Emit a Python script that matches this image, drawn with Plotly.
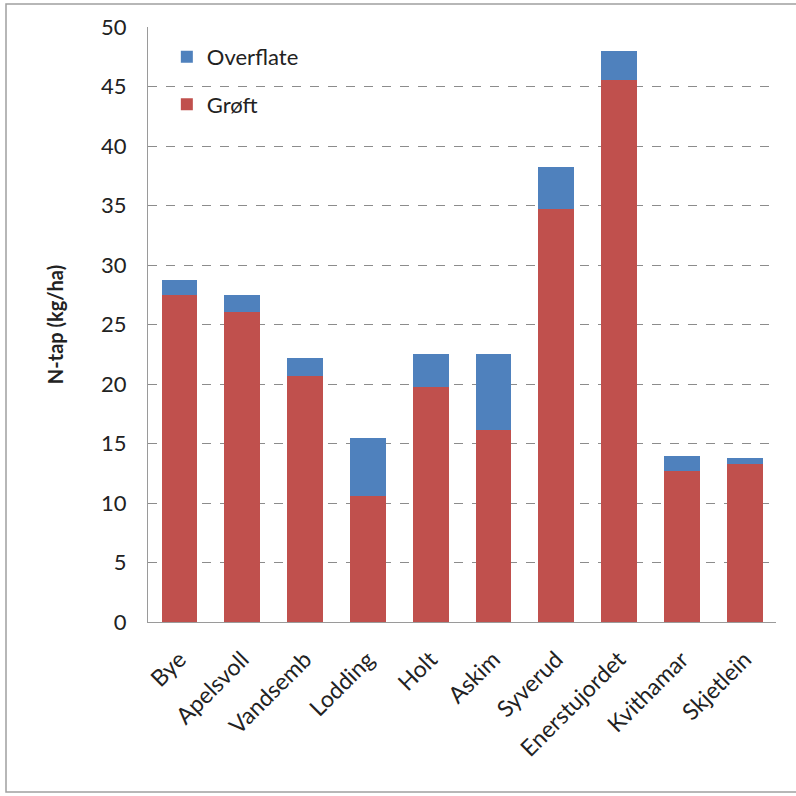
import plotly.graph_objects as go

# N-loss per site (kg/ha), split into drainage (grøft) and surface runoff (overflate)
sites = ["Bye", "Apelsvoll", "Vandsemb", "Lodding", "Holt", "Askim",
         "Syverud", "Enerstujordet", "Kvithamar", "Skjetlein"]
groft = [27.5, 26.05, 20.67, 10.6, 19.75, 16.17, 34.74, 45.58, 12.69, 13.25]
overflate_total = [28.77, 27.5, 22.2, 15.5, 22.55, 22.55, 38.24, 47.96, 13.95, 13.76]
overflate = [round(t - g, 2) for t, g in zip(overflate_total, groft)]

y_ticks = list(range(0, 51, 5))

RED = "#C0504D"
BLUE = "#4F81BD"
FONT = "Lato, 'Open Sans', sans-serif"

fig = go.Figure()
fig.add_trace(go.Bar(x=sites, y=groft, name="Grøft", marker_color=RED,
                     legendgroup="g", legendrank=2, marker_line_width=0))
fig.add_trace(go.Bar(x=sites, y=overflate, name="Overflate", marker_color=BLUE,
                     legendgroup="o", legendrank=1, marker_line_width=0))

fig.update_layout(
    barmode="stack",
    bargap=0.43,
    width=796, height=796,
    margin=dict(l=148, r=20, t=27, b=174),
    paper_bgcolor="white",
    plot_bgcolor="white",
    font=dict(family=FONT, color="#222222"),
    showlegend=True,
    legend=dict(
        x=0.03, y=0.985, xanchor="left", yanchor="top",
        traceorder="grouped", tracegroupgap=16,
        font=dict(size=22, family=FONT),
        bgcolor="rgba(0,0,0,0)",
        itemwidth=30,
    ),
    xaxis=dict(
        tickangle=-45,
        tickfont=dict(size=23, family=FONT),
        ticklabelstandoff=14,
        showline=True, linecolor="#9a9a9a", linewidth=1,
        ticks="", showgrid=False,
    ),
    yaxis=dict(
        range=[0, 50],
        tickvals=y_ticks,
        tickfont=dict(size=22, family=FONT),
        ticklabelstandoff=16,
        showline=True, linecolor="#9a9a9a", linewidth=1,
        showgrid=True, gridcolor="#8c8c8c", griddash="dash", gridwidth=1,
        zeroline=False,
        ticks="", ticklen=0,
        title=dict(text="<b>N-tap (kg/ha)</b>", font=dict(size=20, family=FONT),
                   standoff=32),
    ),
)

# Outer frame around the chart
fig.add_shape(type="rect", xref="paper", yref="paper",
              x0=-142 / 628, x1=1.04, y0=-170 / 595, y1=1 + 23 / 595,
              line=dict(color="#a0a0a0", width=1.5), layer="below")

fig.write_html("out.html")
